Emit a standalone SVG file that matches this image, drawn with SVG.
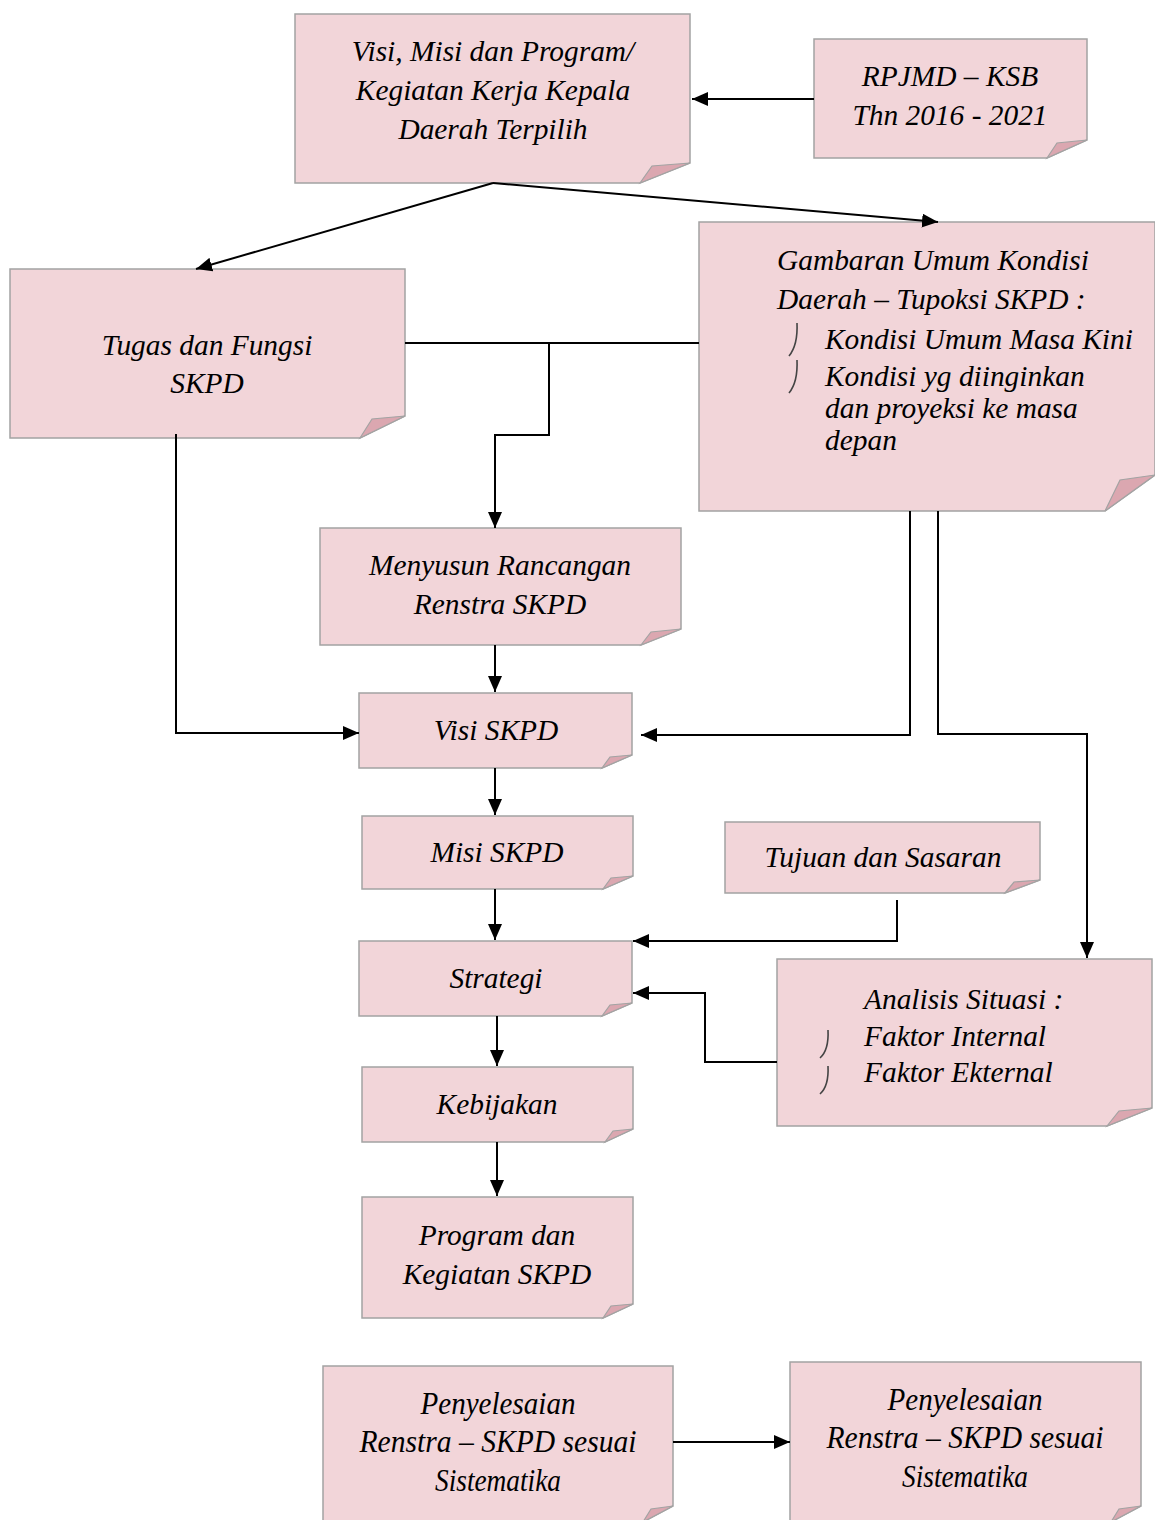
<svg xmlns="http://www.w3.org/2000/svg" width="1155" height="1520" viewBox="0 0 1155 1520">
<defs>
<style>
.box{fill:#f2d5d9;stroke:#a3a3a3;stroke-width:1.5}
.fold{fill:#dba7b0;stroke:#a3a3a3;stroke-width:1.2}
.t{font-family:"Liberation Serif","Times New Roman",serif;font-style:italic;font-size:29.4px;fill:#000}
.n{font-size:31px}
.c{text-anchor:middle}
.ln{fill:none;stroke:#000;stroke-width:2}
.bul{fill:none;stroke:#444;stroke-width:1.6}
</style>
<marker id="ah" viewBox="0 0 16 14" markerWidth="16" markerHeight="14" refX="16" refY="7" orient="auto" markerUnits="userSpaceOnUse">
<path d="M0,0 L16,7 L0,14 Z" fill="#000"/>
</marker>
</defs>
<rect width="1155" height="1520" fill="#fff"/>

<g id="n1">
<path class="box" d="M295,14 H690 V163 L640,183 H295 Z"/>
<path class="fold" d="M640,183 L652,166 L690,163 Z"/>
<text class="t c" x="493" y="61">Visi, Misi dan Program/</text>
<text class="t c" x="493" y="100">Kegiatan Kerja Kepala</text>
<text class="t c" x="493" y="139">Daerah Terpilih</text>
</g>

<g id="n2">
<path class="box" d="M814,39 H1087 V140 L1047,158 H814 Z"/>
<path class="fold" d="M1047,158 L1057,143 L1087,140 Z"/>
<text class="t c" x="950" y="86">RPJMD – KSB</text>
<text class="t c" x="950" y="125">Thn 2016 - 2021</text>
</g>

<g id="n3">
<path class="box" d="M10,269 H405 V416 L360,438 H10 Z"/>
<path class="fold" d="M360,438 L372,419 L405,416 Z"/>
<text class="t c" x="207" y="355">Tugas dan Fungsi</text>
<text class="t c" x="207" y="393">SKPD</text>
</g>

<g id="n4">
<path class="box" d="M699,222 H1155 V475 L1105,511 H699 Z"/>
<path class="fold" d="M1105,511 L1120,480 L1155,475 Z"/>
<text class="t" x="777" y="270">Gambaran Umum Kondisi</text>
<text class="t" x="777" y="309">Daerah – Tupoksi SKPD :</text>
<path class="bul" d="M797,323 Q798,345 789,356"/>
<path class="bul" d="M797,360 Q798,382 789,393"/>
<text class="t" x="825" y="349">Kondisi Umum Masa Kini</text>
<text class="t" x="825" y="386">Kondisi yg diinginkan</text>
<text class="t" x="825" y="418">dan proyeksi ke masa</text>
<text class="t" x="825" y="450">depan</text>
</g>

<g id="n5">
<path class="box" d="M320,528 H681 V629 L641,645 H320 Z"/>
<path class="fold" d="M641,645 L651,632 L681,629 Z"/>
<text class="t c" x="500" y="575">Menyusun Rancangan</text>
<text class="t c" x="500" y="614">Renstra SKPD</text>
</g>

<g id="n6">
<path class="box" d="M359,693 H632 V755 L602,768 H359 Z"/>
<path class="fold" d="M602,768 L610,757 L632,755 Z"/>
<text class="t c" x="496" y="740">Visi SKPD</text>
</g>

<g id="n7">
<path class="box" d="M362,816 H633 V876 L603,889 H362 Z"/>
<path class="fold" d="M603,889 L611,878 L633,876 Z"/>
<text class="t c" x="497" y="862">Misi SKPD</text>
</g>

<g id="n8">
<path class="box" d="M725,822 H1040 V880 L1005,893 H725 Z"/>
<path class="fold" d="M1005,893 L1014,882 L1040,880 Z"/>
<text class="t c" x="883" y="867">Tujuan dan Sasaran</text>
</g>

<g id="n9">
<path class="box" d="M359,941 H632 V1003 L602,1016 H359 Z"/>
<path class="fold" d="M602,1016 L610,1005 L632,1003 Z"/>
<text class="t c" x="496" y="988">Strategi</text>
</g>

<g id="n10">
<path class="box" d="M777,959 H1152 V1108 L1107,1126 H777 Z"/>
<path class="fold" d="M1107,1126 L1119,1111 L1152,1108 Z"/>
<text class="t" x="864" y="1009">Analisis Situasi :</text>
<path class="bul" d="M828,1030 Q829,1050 820,1058"/>
<path class="bul" d="M828,1066 Q829,1086 820,1094"/>
<text class="t" x="864" y="1046">Faktor Internal</text>
<text class="t" x="864" y="1082">Faktor Ekternal</text>
</g>

<g id="n11">
<path class="box" d="M362,1067 H633 V1129 L605,1142 H362 Z"/>
<path class="fold" d="M605,1142 L613,1131 L633,1129 Z"/>
<text class="t c" x="497" y="1114">Kebijakan</text>
</g>

<g id="n12">
<path class="box" d="M362,1197 H633 V1304 L603,1318 H362 Z"/>
<path class="fold" d="M603,1318 L611,1306 L633,1304 Z"/>
<text class="t c" x="497" y="1245">Program dan</text>
<text class="t c" x="497" y="1284">Kegiatan SKPD</text>
</g>

<g id="n13">
<path class="box" d="M323,1366 H673 V1506 L643,1522 H323 Z"/>
<path class="fold" d="M643,1522 L651,1509 L673,1506 Z"/>
<text class="t n c" x="498" y="1414" textLength="155" lengthAdjust="spacingAndGlyphs">Penyelesaian</text>
<text class="t n c" x="498" y="1452" textLength="277" lengthAdjust="spacingAndGlyphs">Renstra – SKPD sesuai</text>
<text class="t n c" x="498" y="1491" textLength="126" lengthAdjust="spacingAndGlyphs">Sistematika</text>
</g>

<g id="n14">
<path class="box" d="M790,1362 H1141 V1506 L1111,1522 H790 Z"/>
<path class="fold" d="M1111,1522 L1119,1509 L1141,1506 Z"/>
<text class="t n c" x="965" y="1410" textLength="155" lengthAdjust="spacingAndGlyphs">Penyelesaian</text>
<text class="t n c" x="965" y="1448" textLength="277" lengthAdjust="spacingAndGlyphs">Renstra – SKPD sesuai</text>
<text class="t n c" x="965" y="1487" textLength="126" lengthAdjust="spacingAndGlyphs">Sistematika</text>
</g>

<g id="connectors">
<path class="ln" d="M814,99 H692" marker-end="url(#ah)"/>
<path class="ln" d="M493,183 L196,269" marker-end="url(#ah)"/>
<path class="ln" d="M493,183 L938,222" marker-end="url(#ah)"/>
<path class="ln" d="M405,343 H699"/>
<path class="ln" d="M549,343 V435 H495 V528" marker-end="url(#ah)"/>
<path class="ln" d="M176,434 V733 H359" marker-end="url(#ah)"/>
<path class="ln" d="M910,511 V735 H641" marker-end="url(#ah)"/>
<path class="ln" d="M938,511 V734 H1087 V958" marker-end="url(#ah)"/>
<path class="ln" d="M495,645 V692" marker-end="url(#ah)"/>
<path class="ln" d="M495,768 V815" marker-end="url(#ah)"/>
<path class="ln" d="M495,889 V940" marker-end="url(#ah)"/>
<path class="ln" d="M897,900 V941 H633" marker-end="url(#ah)"/>
<path class="ln" d="M777,1062 H705 V993 H633" marker-end="url(#ah)"/>
<path class="ln" d="M497,1016 V1066" marker-end="url(#ah)"/>
<path class="ln" d="M497,1142 V1196" marker-end="url(#ah)"/>
<path class="ln" d="M673,1442 H790" marker-end="url(#ah)"/>
</g>
</svg>
